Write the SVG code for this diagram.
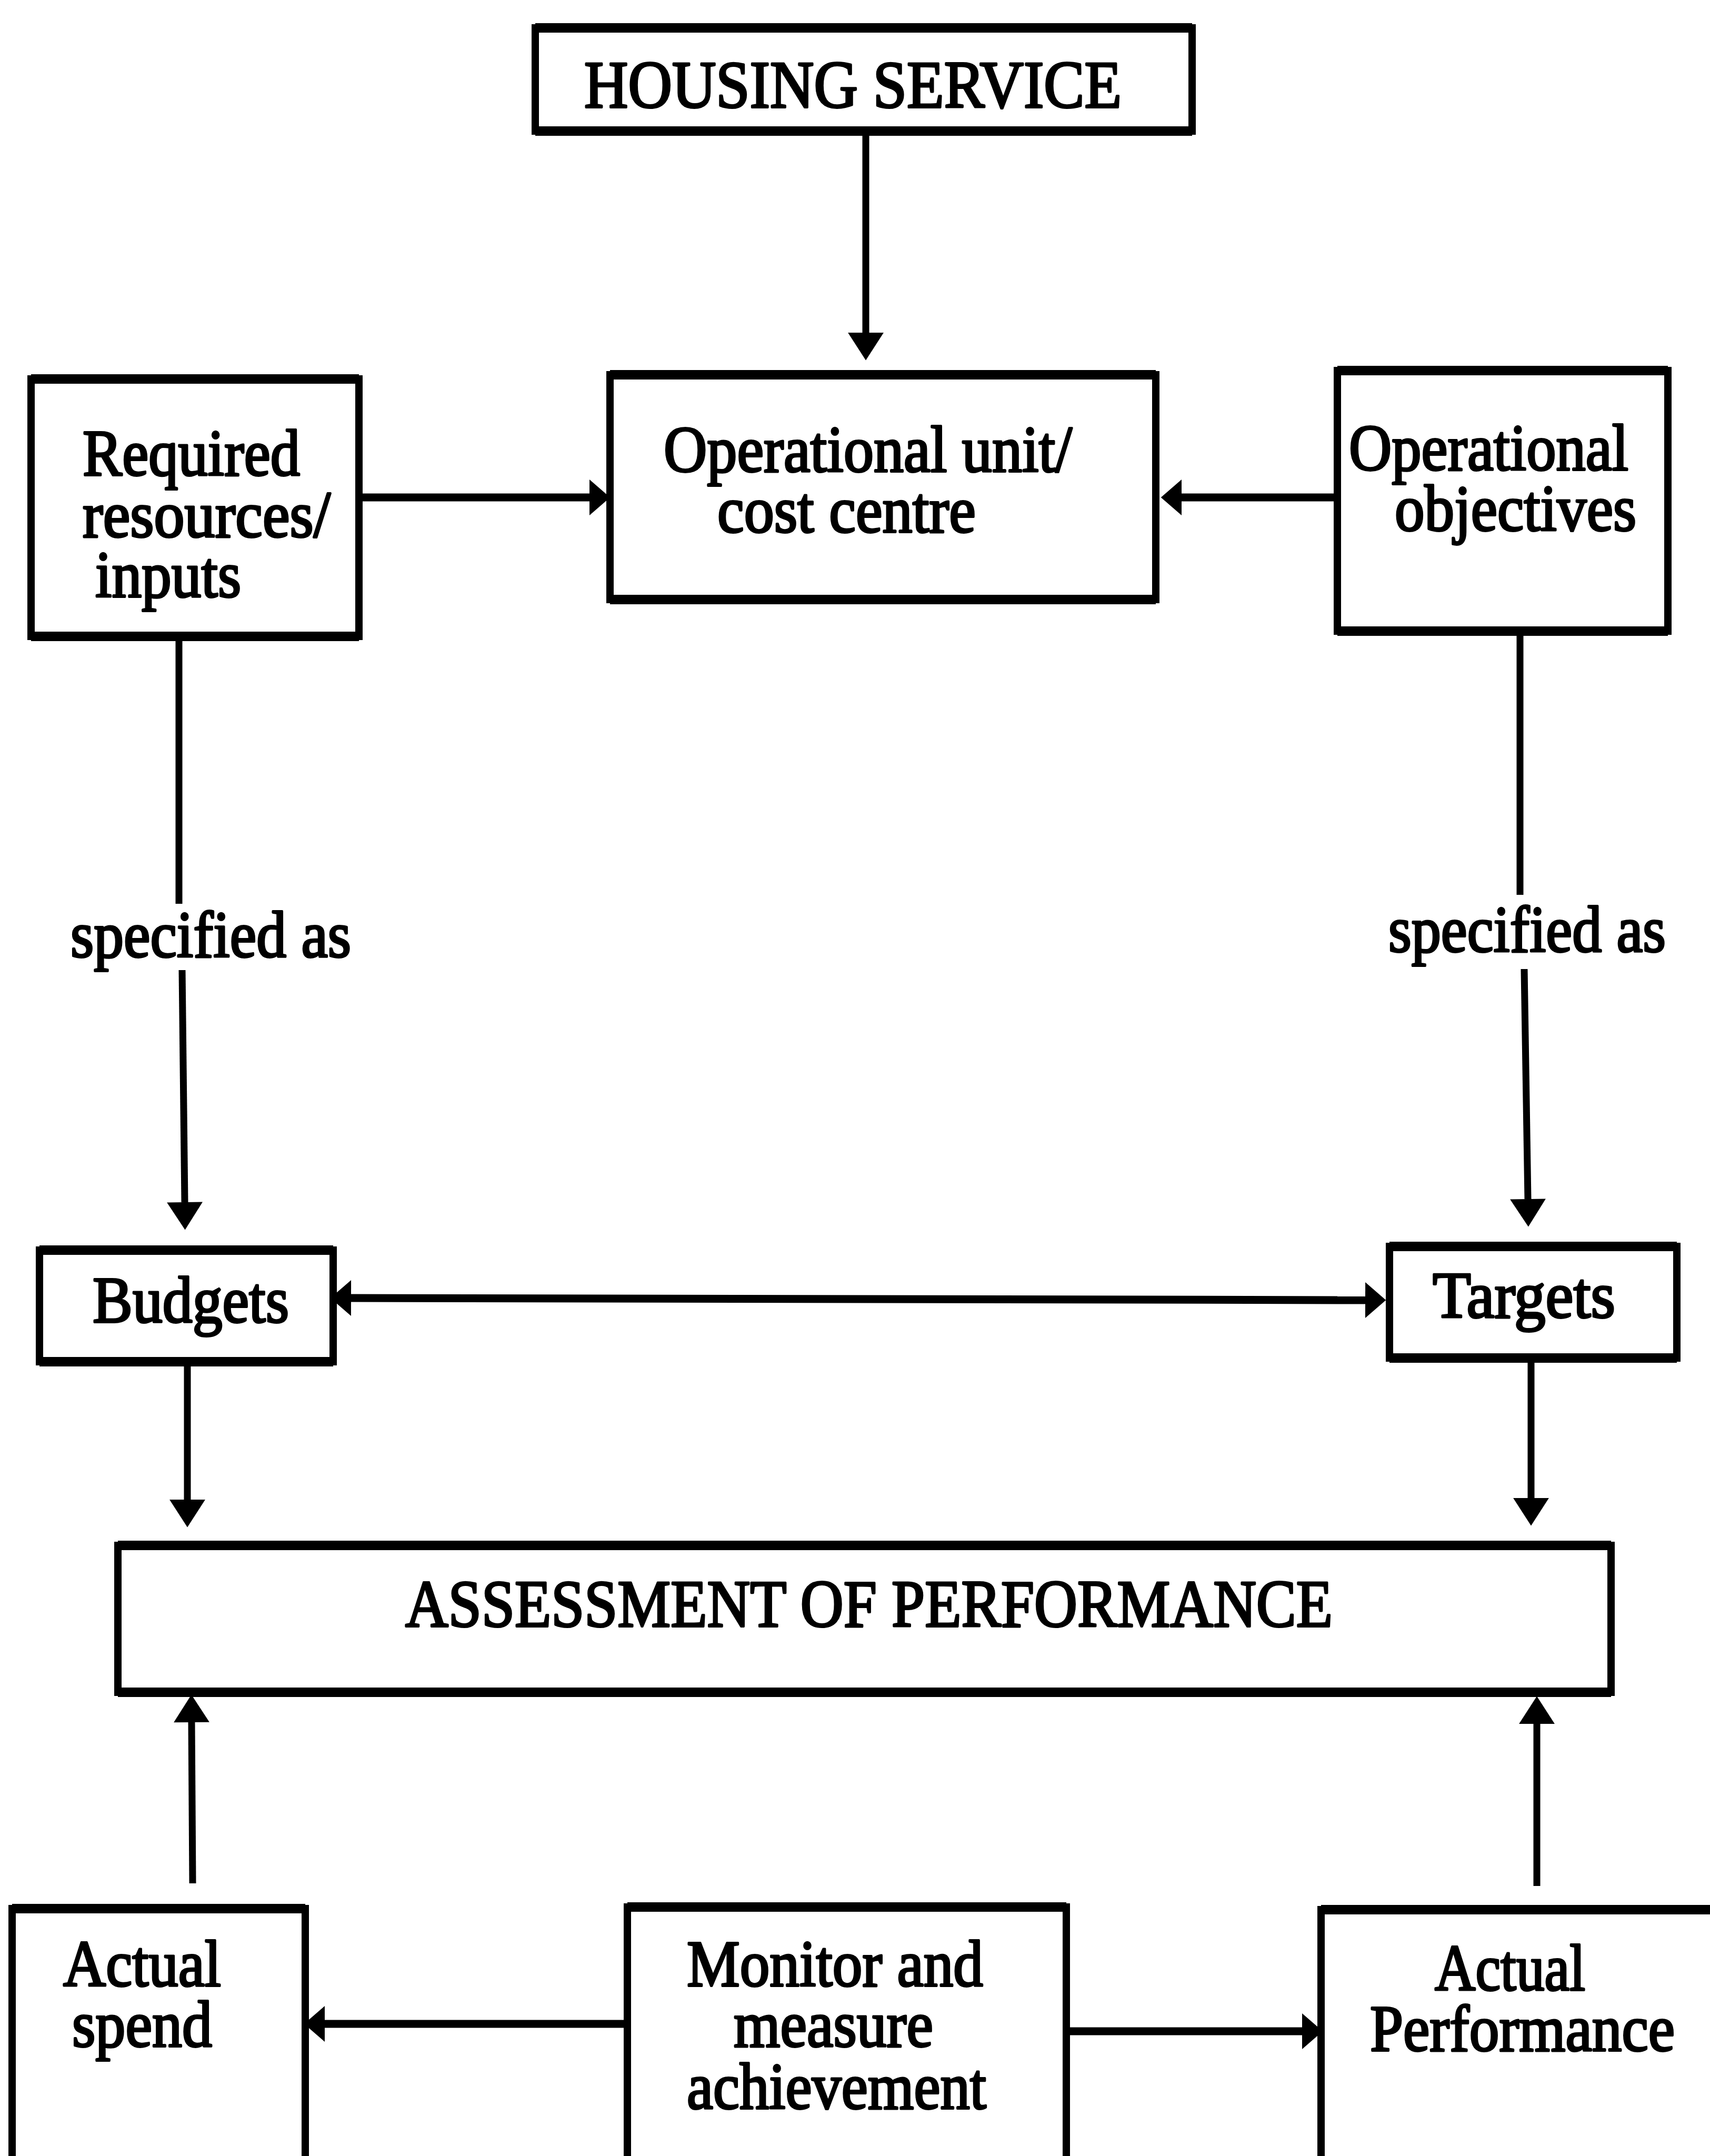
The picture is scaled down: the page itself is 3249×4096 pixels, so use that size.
<svg xmlns="http://www.w3.org/2000/svg" width="3249" height="4096" viewBox="0 0 3249 4096">
  <style>
    .box { fill: #fff; stroke: #000; stroke-width: 14; }
    .hedge { fill: none; stroke: #000; stroke-width: 18; }
    .lbl { font-family: "Liberation Serif", "Times New Roman", serif; font-size: 124px; fill: #000; stroke: #000; stroke-width: 4; stroke-linejoin: round; }
    .cap { font-size: 126px; }
    .conn { fill: none; stroke: #000; stroke-width: 13; }
    .thick { stroke-width: 15; }
  </style>
  <defs>
    <!-- arrowheads: the line ends at the base, the head extends beyond it -->
    <marker id="ah" markerUnits="userSpaceOnUse" markerWidth="60" markerHeight="70" viewBox="0 -32 50 64" refX="0" refY="0" orient="auto">
      <path d="M0,-31 L48,0 L0,31 Z" fill="#000"/>
    </marker>
    <marker id="ahs" markerUnits="userSpaceOnUse" markerWidth="50" markerHeight="70" viewBox="0 -33 40 66" refX="0" refY="0" orient="auto-start-reverse">
      <path d="M0,-32 L37,0 L0,32 Z" fill="#000"/>
    </marker>
  </defs>
  <rect width="3249" height="4096" fill="#fff"/>

  <!-- connectors -->
  <g id="connectors">
    <path class="conn" d="M1645,249 V632" marker-end="url(#ah)"/>
    <path class="conn thick" d="M682,945 H1120" marker-end="url(#ahs)"/>
    <path class="conn thick" d="M2541,945 H2245" marker-end="url(#ahs)"/>
    <path class="conn" d="M340,1216 V1717"/>
    <path class="conn" d="M346,1843 L351,2284" marker-end="url(#ah)"/>
    <path class="conn" d="M2888,1199 V1700"/>
    <path class="conn" d="M2896,1841 L2903,2278" marker-end="url(#ah)"/>
    <path class="conn thick" d="M667,2466 L2594,2470" marker-start="url(#ahs)" marker-end="url(#ahs)"/>
    <path class="conn" d="M356,2587 V2849" marker-end="url(#ah)"/>
    <path class="conn" d="M2909,2580 V2846" marker-end="url(#ah)"/>
    <path class="conn" d="M366,3578 L364,3272" marker-end="url(#ah)"/>
    <path class="conn" d="M2920,3583 V3275" marker-end="url(#ah)"/>
    <path class="conn thick" d="M1192,3845 H617" marker-end="url(#ahs)"/>
    <path class="conn thick" d="M2026,3859 H2474" marker-end="url(#ahs)"/>
  </g>

  <g id="housing-service">
    <rect class="box" x="1017" y="53" width="1248" height="196"/>
    <path class="hedge" d="M1017,53 h1248 M1017,249 h1248"/>
    <text class="lbl cap" x="1110" y="204" textLength="1021" lengthAdjust="spacingAndGlyphs">HOUSING SERVICE</text>
  </g>

  <g id="operational-unit">
    <rect class="box" x="1159" y="712" width="1037" height="427"/>
    <path class="hedge" d="M1159,712 h1037 M1159,1139 h1037"/>
    <text class="lbl" x="1261" y="896" textLength="776" lengthAdjust="spacingAndGlyphs">Operational unit/</text>
    <text class="lbl" x="1363" y="1011" textLength="491" lengthAdjust="spacingAndGlyphs">cost centre</text>
  </g>

  <g id="required-resources">
    <rect class="box" x="59" y="720" width="623" height="489"/>
    <path class="hedge" d="M59,720 h623 M59,1209 h623"/>
    <text class="lbl" x="157" y="903" textLength="413" lengthAdjust="spacingAndGlyphs">Required</text>
    <text class="lbl" x="157" y="1020" textLength="471" lengthAdjust="spacingAndGlyphs">resources/</text>
    <text class="lbl" x="181" y="1134" textLength="277" lengthAdjust="spacingAndGlyphs">inputs</text>
  </g>

  <g id="operational-objectives">
    <rect class="box" x="2541" y="704" width="628" height="495"/>
    <path class="hedge" d="M2541,704 h628 M2541,1199 h628"/>
    <text class="lbl" x="2563" y="893" textLength="531" lengthAdjust="spacingAndGlyphs">Operational</text>
    <text class="lbl" x="2650" y="1008" textLength="459" lengthAdjust="spacingAndGlyphs">objectives</text>
  </g>

  <g id="label-specified-left">
    <text class="lbl" x="134" y="1818" textLength="533" lengthAdjust="spacingAndGlyphs">specified as</text>
  </g>
  <g id="label-specified-right">
    <text class="lbl" x="2638" y="1808" textLength="527" lengthAdjust="spacingAndGlyphs">specified as</text>
  </g>

  <g id="budgets">
    <rect class="box" x="75" y="2375" width="558" height="212"/>
    <path class="hedge" d="M75,2375 h558 M75,2587 h558"/>
    <text class="lbl" x="176" y="2512" textLength="373" lengthAdjust="spacingAndGlyphs">Budgets</text>
  </g>

  <g id="targets">
    <rect class="box" x="2640" y="2368" width="546" height="212"/>
    <path class="hedge" d="M2640,2368 h546 M2640,2580 h546"/>
    <text class="lbl" x="2722" y="2503" textLength="347" lengthAdjust="spacingAndGlyphs">Targets</text>
  </g>

  <g id="assessment">
    <rect class="box" x="224" y="2936" width="2837" height="279"/>
    <path class="hedge" d="M224,2936 h2837 M224,3215 h2837"/>
    <text class="lbl cap" x="770" y="3090" textLength="1762" lengthAdjust="spacingAndGlyphs">ASSESSMENT OF PERFORMANCE</text>
  </g>

  <g id="actual-spend">
    <rect class="box" x="23" y="3626" width="557" height="520"/>
    <path class="hedge" d="M23,3626 h557"/>
    <text class="lbl" x="120" y="3773" textLength="300" lengthAdjust="spacingAndGlyphs">Actual</text>
    <text class="lbl" x="137" y="3888" textLength="266" lengthAdjust="spacingAndGlyphs">spend</text>
  </g>

  <g id="monitor">
    <rect class="box" x="1192" y="3623" width="834" height="520"/>
    <path class="hedge" d="M1192,3623 h834"/>
    <text class="lbl" x="1305" y="3773" textLength="563" lengthAdjust="spacingAndGlyphs">Monitor and</text>
    <text class="lbl" x="1394" y="3888" textLength="379" lengthAdjust="spacingAndGlyphs">measure</text>
    <text class="lbl" x="1305" y="4006" textLength="569" lengthAdjust="spacingAndGlyphs">achievement</text>
  </g>

  <g id="actual-performance">
    <rect class="box" x="2510" y="3628" width="800" height="520"/>
    <path class="hedge" d="M2510,3628 h800"/>
    <text class="lbl" x="2726" y="3781" textLength="286" lengthAdjust="spacingAndGlyphs">Actual</text>
    <text class="lbl" x="2603" y="3896" textLength="579" lengthAdjust="spacingAndGlyphs">Performance</text>
  </g>
</svg>
